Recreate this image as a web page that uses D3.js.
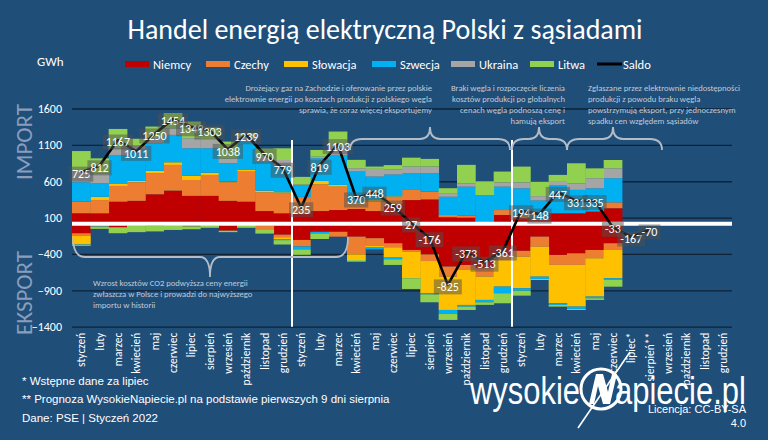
<!DOCTYPE html>
<html><head><meta charset="utf-8">
<script src="https://cdn.jsdelivr.net/npm/d3@7"></script>
<style>
html,body{margin:0;padding:0;background:#1f4e79;}
svg{display:block;}
</style></head>
<body><svg id="c" width="768" height="440"></svg>
<script>
// ---------- DATA ----------
const monthNames = ["styczeń","luty","marzec","kwiecień","maj","czerwiec","lipiec","sierpień","wrzesień","październik","listopad","grudzień"];
const monthNames2022 = ["styczeń","luty","marzec","kwiecień","maj","czerwiec","lipiec*","sierpień**","wrzesień","październik","listopad","grudzień"];
const monthLabels = [...monthNames, ...monthNames, ...monthNames2022];

const countries = ["Niemcy","Czechy","Słowacja","Szwecja","Ukraina","Litwa"];
const countryColors = ["#c00000","#ed7d31","#ffc000","#00b0f0","#a5a5a5","#92d050"];

// imports (GWh), Jan 2020 .. Dec 2022
const niemcyImp   = [160,159,319,330,421,471,399,399,330,319,190,159, 150,190,204,218,190,282,341,350,104,99,20,136, 90,65,159,159,183,229,0,0,0,0,0,0];
const czechyImp   = [159,182,216,255,289,353,218,287,255,413,258,275, 230,368,322,66,140,100,139,106,32,28,0,68, 47,20,0,0,0,81,0,0,0,0,0,0];
const slowacjaImp = [0,46,27,19,32,37,59,32,9,23,23,14, 5,46,23,23,11,10,0,0,0,0,0,0, 0,0,0,0,0,0,0,0,0,0,0,0];
const szwecjaImp  = [267,184,399,440,380,376,377,335,252,390,398,376, 160,311,412,426,323,300,230,254,250,398,390,321, 365,250,389,322,319,331,0,0,0,0,0,0];
const ukrainaImp  = [144,138,92,50,69,91,138,115,69,69,69,68, 10,23,139,46,106,70,92,92,50,46,0,60, 83,60,55,90,139,136,0,0,0,0,0,0];
const litwaImp    = [285,206,266,90,161,206,229,170,230,46,110,161, 105,92,183,115,32,60,122,105,68,254,190,148, 216,200,84,276,136,115,0,0,0,0,0,0];

// exports (GWh, shown below zero)
const niemcyExp   = [116,5,30,10,15,10,20,5,80,5,10,135, 207,95,95,162,183,253,345,405,573,551,597,413, 357,162,413,391,345,253,0,0,0,0,0,0];
const czechyExp   = [32,15,5,0,0,0,0,0,0,0,50,35, 90,0,67,243,101,55,23,92,138,69,114,69, 80,138,137,159,114,92,0,0,0,0,0,0];
const slowacjaExp = [120,5,0,0,0,0,0,0,0,0,0,30, 0,0,0,78,28,142,366,444,459,481,321,367, 435,412,528,574,527,390,0,0,0,0,0,0];
const szwecjaExp  = [5,5,0,0,0,0,0,5,0,0,0,10, 40,23,0,0,24,23,0,14,55,23,32,91, 33,32,22,32,23,23,0,0,0,0,0,0];
const ukrainaExp  = [0,0,0,0,0,0,0,0,0,0,0,0, 0,0,0,0,0,0,0,0,0,0,0,0, 0,0,0,0,0,0,0,0,0,0,0,0];
const litwaExp    = [15,25,80,90,75,60,40,30,20,35,60,60, 75,76,0,23,0,78,147,109,82,46,36,138, 68,14,24,14,23,92,0,0,0,0,0,0];

const saldo = [725,812,1167,1011,1250,1454,1349,1303,1038,1239,970,779,
               235,819,1103,370,448,259,27,-176,-825,-373,-513,-361,
               194,148,447,331,335,-33,-167,-70,null,null,null,null];

const yTicks = [-1400,-900,-400,100,600,1100,1600];

// ---------- CHART ----------
const W = 768, H = 440;
const svg = d3.select("#c");
const FONT = "Carlito, Lato, 'Open Sans', sans-serif";
svg.append("rect").attr("width",W).attr("height",H).attr("fill","#1f4e79");

const x = d3.scaleBand().domain(d3.range(monthLabels.length)).range([72,732]).padding(0);
const y = d3.scaleLinear().domain([-1400,1600]).range([326.7,108.5]);

// grid / y axis
const yAxis = d3.axisLeft(y).tickValues(yTicks).tickSize(-660).tickPadding(10).tickFormat(d3.format("d"));
const gy = svg.append("g").attr("transform","translate(72,0)").call(yAxis);
gy.select(".domain").remove();
gy.selectAll(".tick line").attr("stroke","#0f2236").attr("stroke-width",1.3);
gy.selectAll(".tick text").attr("fill","#ffffff").style("font-family",FONT).style("font-size","12px");

// stacked bars
const imports = [niemcyImp,czechyImp,slowacjaImp,szwecjaImp,ukrainaImp,litwaImp];
const exportsArr = [niemcyExp,czechyExp,slowacjaExp,szwecjaExp,ukrainaExp,litwaExp];
const table = monthLabels.map((m,i)=>{
  const r = {i};
  countries.forEach((c,k)=>{ r[c+"_imp"] = imports[k][i]; r[c+"_exp"] = -exportsArr[k][i]; });
  return r;
});
const keys = countries.flatMap(c=>[c+"_imp", c+"_exp"]);
const series = d3.stack().keys(keys).offset(d3.stackOffsetDiverging)(table);
const colorOf = k => countryColors[countries.indexOf(k.split("_")[0])];

svg.append("g").selectAll("g").data(series).join("g")
  .attr("fill", s=>colorOf(s.key))
  .selectAll("rect").data(s=>s.filter(d=>d[1]!==d[0])).join("rect")
  .attr("x", d=>x(d.data.i))
  .attr("width", x.bandwidth()+0.4)
  .attr("y", d=>y(Math.max(d[0],d[1])))
  .attr("height", d=>Math.abs(y(d[0])-y(d[1])));

// zero line
svg.append("line").attr("x1",72).attr("x2",732).attr("y1",y(0)-1).attr("y2",y(0)-1)
  .attr("stroke","#ffffff").attr("stroke-width",4);

// vertical year separators
[12,24].forEach(i=>{
  svg.append("line").attr("x1",x(i)).attr("x2",x(i)).attr("y1",140).attr("y2",y(-1400))
    .attr("stroke","#ffffff").attr("stroke-width",2);
});

// x axis labels
const xAxis = d3.axisBottom(x).tickSize(0).tickFormat(i=>monthLabels[i]);
const gx = svg.append("g").attr("transform",`translate(0,${y(-1400)})`).call(xAxis);
gx.select(".domain").remove();
gx.selectAll(".tick text")
  .attr("transform","rotate(-90)")
  .attr("text-anchor","end")
  .attr("x",-6).attr("y",0).attr("dy","0.35em")
  .attr("fill","#ffffff").style("font-family",FONT).style("font-size","11.5px");

// saldo line
const pts = saldo.map((v,i)=>({i,v})).filter(d=>d.v!==null);
svg.append("path").datum(pts)
  .attr("fill","none").attr("stroke","#000000").attr("stroke-width",2.6).attr("stroke-linejoin","round")
  .attr("d", d3.line().x(d=>x(d.i)+x.bandwidth()/2).y(d=>y(d.v)));

// saldo labels
const lab = svg.append("g").selectAll("g").data(pts).join("g")
  .attr("transform", d=>`translate(${x(d.i)+x.bandwidth()/2},${y(d.v)+2})`);
lab.append("rect").attr("fill","rgba(80,80,80,0.5)");
lab.append("text").text(d=>d.v).attr("text-anchor","middle").attr("dy","0.35em")
  .attr("fill","#ffffff").style("font-family",FONT).style("font-size","12px");
lab.each(function(){
  const g = d3.select(this);
  const w = g.select("text").node().getComputedTextLength();
  g.select("rect").attr("x",-w/2-3).attr("y",-7.5).attr("width",w+6).attr("height",15);
});

// title
svg.append("text").attr("x",385).attr("y",39).attr("text-anchor","middle")
  .attr("fill","#ffffff").style("font-family",FONT).style("font-size","28px")
  .text("Handel energią elektryczną Polski z sąsiadami");

svg.append("text").attr("x",37).attr("y",66).attr("fill","#ffffff")
  .style("font-family",FONT).style("font-size","13px").text("GWh");

// legend
const legendItems = [
  {name:"Niemcy", c:countryColors[0], x:125},
  {name:"Czechy", c:countryColors[1], x:206},
  {name:"Słowacja", c:countryColors[2], x:284},
  {name:"Szwecja", c:countryColors[3], x:372},
  {name:"Ukraina", c:countryColors[4], x:451},
  {name:"Litwa", c:countryColors[5], x:530}
];
const lg = svg.append("g");
legendItems.forEach(it=>{
  lg.append("rect").attr("x",it.x).attr("y",61).attr("width",24).attr("height",6).attr("fill",it.c);
  lg.append("text").attr("x",it.x+28).attr("y",68.5).attr("fill","#ffffff")
    .style("font-family",FONT).style("font-size","12.5px").text(it.name);
});
lg.append("line").attr("x1",597).attr("x2",622).attr("y1",64).attr("y2",64).attr("stroke","#000").attr("stroke-width",3);
lg.append("text").attr("x",623).attr("y",68.5).attr("fill","#ffffff")
  .style("font-family",FONT).style("font-size","12.5px").text("Saldo");

// IMPORT / EKSPORT
svg.append("text").attr("transform","translate(32,142) rotate(-90)").attr("text-anchor","middle")
  .attr("fill","#8a9dbb").style("font-family",FONT).style("font-size","23px").text("IMPORT");
svg.append("text").attr("transform","translate(32,293) rotate(-90)").attr("text-anchor","middle")
  .attr("fill","#8a9dbb").style("font-family",FONT).style("font-size","23px").text("EKSPORT");

// annotations
const annColor = "#c3cad5";
function annot(lines, xx, y0, anchor){
  const t = svg.append("text").attr("fill",annColor).style("font-family",FONT).style("font-size","8.6px")
    .attr("text-anchor",anchor);
  lines.forEach((l,k)=>t.append("tspan").attr("x",xx).attr("y",y0+k*11).text(l));
}
annot(["Drożejący gaz na Zachodzie i oferowanie przez polskie",
       "elektrownie energii po kosztach produkcji z polskiego węgla",
       "sprawia, że coraz więcej eksportujemy"], 432, 91, "end");
annot(["Braki węgla i rozpoczęcie liczenia",
       "kosztów produkcji po globalnych",
       "cenach węgla podnoszą cenę i",
       "hamują eksport"], 565, 91, "end");
annot(["Zgłaszane przez elektrownie niedostępności",
       "produkcji z powodu braku węgla",
       "powstrzymują eksport, przy jednoczesnym",
       "spadku cen względem sąsiadów"], 588, 91, "start");
annot(["Wzrost kosztów CO2 podwyższa ceny energii",
       "zwłaszcza w Polsce i prowadzi do najwyższego",
       "importu w historii"], 93, 286, "start");

// braces
function braceUp(x1, x2, xt, yEnd, yMid, yTip){
  return `M${x1},${yEnd} Q${x1},${yMid} ${x1+12},${yMid} L${xt-10},${yMid} Q${xt},${yMid} ${xt},${yTip} Q${xt},${yMid} ${xt+10},${yMid} L${x2-12},${yMid} Q${x2},${yMid} ${x2},${yEnd}`;
}
const braceStyle = p => svg.append("path").attr("d",p).attr("fill","none").attr("stroke","#b4bcc8").attr("stroke-width",1.8);
braceStyle(braceUp(350,510,430,150,139,127));
braceStyle(braceUp(512,567,539,150,139,127));
braceStyle(braceUp(567,662,613,150,139,127));
braceStyle(braceUp(73,348,210,237,257,277));

// footnotes
const FOOT = "'Liberation Sans Narrow', 'Liberation Sans', Arial, sans-serif";
[["* Wstępne dane za lipiec",385],
 ["** Prognoza WysokieNapiecie.pl na podstawie pierwszych 9 dni sierpnia",403],
 ["Dane: PSE  |  Styczeń 2022",422]].forEach(([t,yy])=>{
  svg.append("text").attr("x",22).attr("y",yy).attr("fill","#ffffff")
    .style("font-family",FOOT).style("font-size","11.5px").text(t);
});

// logo
const LOGO = "'Liberation Sans Narrow', 'Liberation Sans', sans-serif";
svg.append("text").attr("x",470).attr("y",404).attr("fill","#ffffff").style("font-family",LOGO)
  .style("font-size","38px").attr("textLength",110).attr("lengthAdjust","spacingAndGlyphs").text("wysokie");
svg.append("circle").attr("cx",601).attr("cy",389).attr("r",20).attr("fill","none").attr("stroke","#fff").attr("stroke-width",3);
svg.append("path").attr("d","M589,404 L596,374 L603,374 L608,392 L612,374 L617,374 L610,404 L603,404 L598,386 L594,404 Z").attr("fill","#fff");
svg.append("line").attr("x1",578).attr("y1",428).attr("x2",630).attr("y2",352).attr("stroke","#fff").attr("stroke-width",1.6);
svg.append("text").attr("x",615).attr("y",404).attr("fill","#ffffff").style("font-family",LOGO)
  .style("font-size","38px").attr("textLength",131).attr("lengthAdjust","spacingAndGlyphs").text("apiecie.pl");
svg.append("text").attr("x",746).attr("y",413).attr("text-anchor","end").attr("fill","#ffffff")
  .style("font-family",FOOT).style("font-size","11px").text("Licencja: CC-BY-SA");
svg.append("text").attr("x",746).attr("y",427).attr("text-anchor","end").attr("fill","#ffffff")
  .style("font-family",FOOT).style("font-size","11px").text("4.0");
</script>
</body></html>
